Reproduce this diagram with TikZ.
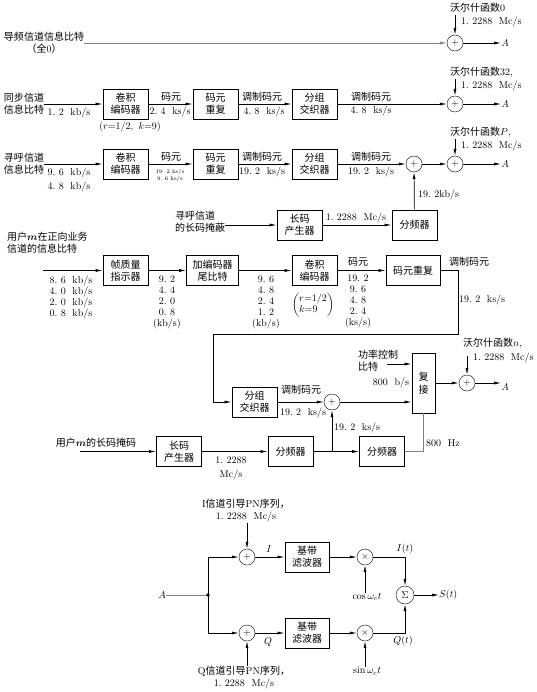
\documentclass[tikz,border=0pt]{standalone}
\usepackage{amsmath}
\usepackage{fontspec}
\newfontfamily\cjk{Noto Sans CJK SC}
\usetikzlibrary{arrows.meta,positioning,calc}

\begin{document}
\begin{tikzpicture}[x=1pt,y=-1pt,font=\cjk\fontsize{10}{12}\selectfont,
  >={Latex[length=7pt,width=3pt]},
  blk/.style={draw, line width=0.8pt, minimum width=45pt, minimum height=30pt, inner sep=0pt, align=center},
  sumc/.style={draw, circle, minimum size=16pt, inner sep=0pt},
  num/.style={inner sep=0pt, align=center, font=\rmfamily\fontsize{10}{11}\selectfont},
  txt/.style={inner sep=0pt, align=center},
  wire/.style={line width=0.7pt}]
\useasboundingbox (0,0) rectangle (537,692);
% pilot channel
\node[txt] (pilot) at (44,43) {导频信道信息比特\\（全{\rmfamily 0}）};
\node[sumc] (s0) at (455,43) {$+$};
\node[num] (a0) at (505,43) {$A$};
\node[txt,anchor=west] (w0) at (450,8) {沃尔什函数{\rmfamily 0}};
\node[num,anchor=west] (r0) at (461,22) {1.\ 2288~~Mc/s};
\coordinate (w0in) at (455,15);
\draw[wire,gray,->] (pilot.east) -- (s0);
\draw[wire,->] (w0in) -- (s0);
\draw[wire,->] (s0) -- (a0);
% sync channel
\node[txt] (sync) at (24,104) {同步信道\\信息比特};
\node[blk] (cv1) at (125.5,104) {卷积\\编码器};
\node[blk] (rp1) at (215.5,104) {码元\\重复};
\node[blk] (il1) at (314.5,104) {分组\\交织器};
\node[sumc] (s32) at (455,104) {$+$};
\node[num] (a32) at (505,104) {$A$};
\node[num] (q0) at (69,113) {1.\ 2~~kb/s};
\node[txt] (q1) at (171,97) {码元};
\node[num] (q2) at (170,112) {2.\ 4~~ks/s};
\node[txt] (q3) at (262,97) {调制码元};
\node[num] (q4) at (264,112) {4.\ 8~~ks/s};
\node[txt] (q5) at (371,97) {调制码元};
\node[num] (q6) at (371,111) {4.\ 8~~ks/s};
\node[num] (q7) at (130,127) {$(r{=}1/2,\ k{=}9)$};
\node[txt,anchor=west] (w32) at (450,72) {沃尔什函数{\rmfamily 32,}};
\node[num,anchor=west] (r32) at (461,86) {1.\ 2288~~Mc/s};
\coordinate (w32in) at (455,79);
\draw[wire,->] (sync.east) -- (cv1);
\draw[wire,->] (cv1) -- (rp1);
\draw[wire,->] (rp1) -- (il1);
\draw[wire,->] (il1) -- (s32);
\draw[wire,->] (w32in) -- (s32);
\draw[wire,->] (s32) -- (a32);
% paging channel
\node[txt] (pag) at (24,164) {寻呼信道\\信息比特};
\node[blk] (cv2) at (125.5,164) {卷积\\编码器};
\node[blk] (rp2) at (215.5,164) {码元\\重复};
\node[blk] (il2) at (314.5,164) {分组\\交织器};
\node[sumc] (s1) at (414,164) {$+$};
\node[sumc] (sP) at (455,164) {$+$};
\node[num] (aP) at (505,164) {$A$};
\node[num] (p1) at (69,173) {9.\ 6~~kb/s};
\node[num] (p2) at (69,187) {4.\ 8~~kb/s};
\node[txt] (p3) at (171,157) {码元};
\node[num,font=\rmfamily\fontsize{5.5}{7}\selectfont] (p4) at (170,176) {19.\ 2 ks/s\\9.\ 6 ks/s};
\node[txt] (p5) at (262,157) {调制码元};
\node[num] (p6) at (262,172) {19.\ 2~~ks/s};
\node[txt] (p7) at (371,157) {调制码元};
\node[num] (p8) at (371,172) {19.\ 2~~ks/s};
\node[txt,anchor=west] (wP) at (450,132) {沃尔什函数$P${\rmfamily ,}};
\node[num,anchor=west] (rP) at (461,146) {1.\ 2288~~Mc/s};
\coordinate (wPin) at (455,139);
\node[txt,anchor=west,align=left] (lcm) at (175,222) {寻呼信道\\的长码掩蔽};
\node[blk] (lc1) at (299.5,225) {长码\\产生器};
\node[blk] (dv1) at (414.5,225) {分频器};
\node[num] (p9) at (356,218) {1.\ 2288~~Mc/s};
\node[num,anchor=west] (p10) at (418,195) {19.\ 2kb/s};
\draw[wire,->] (pag.east) -- (cv2);
\draw[wire,->] (cv2) -- (rp2);
\draw[wire,->] (rp2) -- (il2);
\draw[wire,->] (il2) -- (s1);
\draw[wire,->] (s1) -- (sP);
\draw[wire,->] (wPin) -- (sP);
\draw[wire,->] (sP) -- (aP);
\draw[wire,->] (lcm.east |- lc1) -- (lc1);
\draw[wire,->] (lc1) -- (dv1);
\draw[wire,->] (dv1) -- (s1);
% forward traffic channel
\node[txt,anchor=west,align=left] (usr) at (7,243) {用户$\boldsymbol{m}$在正向业务\\信道的信息比特};
\coordinate (usrin) at (43,270.5);
\node[blk] (fq) at (125.5,270.5) {帧质量\\指示器};
\node[blk,minimum width=52pt] (tl) at (212.5,270.5) {加编码器\\尾比特};
\node[blk] (cv3) at (314.5,270.5) {卷积\\编码器};
\node[blk,minimum width=54pt] (rp3) at (413,270.5) {码元重复};
\node[num] (f1) at (71,297) {8.\ 6~~kb/s\\4.\ 0~~kb/s\\2.\ 0~~kb/s\\0.\ 8~~kb/s};
\node[num] (f2) at (167,302) {9.\ 2\\4.\ 4\\2.\ 0\\0.\ 8\\(kb/s)};
\node[num] (f3) at (266,302) {9.\ 6\\4.\ 8\\2.\ 4\\1.\ 2\\(kb/s)};
\node[num] (f4) at (313,305) {$\left(\begin{array}{@{}l@{}} r{=}1/2\\ k{=}9\end{array}\right)$};
\node[txt] (f5) at (358,262) {码元};
\node[num] (f6) at (358,301) {19.\ 2\\9.\ 6\\4.\ 8\\2.\ 4\\(ks/s)};
\node[txt] (f7) at (469,262) {调制码元};
\node[num,anchor=west] (f8) at (459,300) {19.\ 2~~ks/s};
\coordinate (t1) at (458,334);
\coordinate (t2) at (213,334);
\draw[wire,->] (usrin) -- (fq);
\draw[wire,->] (fq) -- (tl);
\draw[wire,->] (tl) -- (cv3);
\draw[wire,->] (cv3) -- (rp3);
% second interleaver and mux
\node[blk] (il3) at (254.5,402) {分组\\交织器};
\node[txt] (g1) at (301,390) {调制码元};
\node[num] (g2) at (303,413) {19.\ 2~~ks/s};
\node[sumc] (s3) at (332,402) {$+$};
\node[blk,minimum width=23pt,minimum height=60pt,font=\cjk\fontsize{10}{13}\selectfont] (mx) at (423.5,383) {复\\接};
\node[txt,anchor=west,align=left] (pc) at (358,361) {功率控制\\比特};
\node[num] (g3) at (391,383) {800~~b/s};
\coordinate (pcin) at (387,364);
\node[sumc] (sn) at (467,383) {$+$};
\node[num] (an) at (505,387) {$A$};
\node[txt,anchor=west] (wn) at (463,343) {沃尔什函数$n${\rmfamily ,}};
\node[num,anchor=west] (rn) at (473,358) {1.\ 2288~~Mc/s};
\coordinate (wnin) at (467,356);
\draw[wire,->] (rp3.east) -| (t1) -- (t2) |- (il3.west);
\draw[wire,->] (il3) -- (s3);
\draw[wire,->] (s3) -- (s3 -| mx.west);
\draw[wire,->] (pcin) -- (pcin -| mx.west);
\draw[wire,->] (mx) -- (sn);
\draw[wire,->] (wnin) -- (sn);
\draw[wire,->] (sn) -- (sn -| an.west);
% user long code mask
\node[txt] (um) at (96,443) {用户$\boldsymbol{m}$的长码掩码};
\coordinate (umin) at (80,451.5);
\node[blk] (lc2) at (179,451.5) {长码\\产生器};
\node[num,font=\rmfamily\fontsize{10}{14}\selectfont] (h1) at (231,468) {1.\ 2288\\Mc/s};
\node[blk] (dv2) at (290.5,451.5) {分频器};
\node[blk] (dv3) at (382,451.5) {分频器};
\coordinate (jn) at (332,451.5);
\node[num,anchor=west] (h2) at (334,428) {19.\ 2~~ks/s};
\node[num,anchor=west] (h3) at (426,443) {800~~Hz};
\draw[wire,->] (umin) -- (lc2);
\draw[wire,->] (lc2) -- (dv2);
\draw[wire,->] (dv2) -- (dv3);
\draw[wire,->] (jn) -- (s3);
\draw[wire,gray] (dv3.east) -| (mx.south);
% quadrature modulator
\node[txt] (ipn) at (246,511) {{\rmfamily I}信道引导{\rmfamily PN}序列，\\{\rmfamily 1.\ 2288~~Mc/s}};
\node[txt] (qpn) at (244,678) {{\rmfamily Q}信道引导{\rmfamily PN}序列，\\{\rmfamily 1.\ 2288~~Mc/s}};
\node[sumc] (sI) at (247,557) {$+$};
\node[sumc] (sQ) at (247,633) {$+$};
\node[num] (ain) at (162,595) {$A$};
\coordinate (jA) at (208,595);
\node[blk,minimum width=44pt] (bI) at (307,557) {基带\\滤波器};
\node[blk,minimum width=44pt] (bQ) at (307,633) {基带\\滤波器};
\node[num] (li) at (269,549) {$I$};
\node[num] (lq) at (268,642) {$Q$};
\node[sumc] (mI) at (365,557) {$\times$};
\node[sumc] (mQ) at (365,633) {$\times$};
\node[num] (cs) at (367,597) {$\cos\omega_{c}t$};
\node[num] (sn2) at (367,671) {$\sin\omega_{c}t$};
\node[sumc,minimum size=18pt] (sg) at (405,595) {$\Sigma$};
\node[num] (it) at (405,549) {$I(t)$};
\node[num] (qt) at (403,641) {$Q(t)$};
\node[num,anchor=west] (st) at (439,595) {$S(t)$};
\draw[wire,->] (ipn.south -| sI) -- (sI);
\draw[wire,->] (qpn.north -| sQ) -- (sQ);
\draw[wire,gray] (ain) -- (jA);
\fill (jA) circle (1.8);
\draw[wire,->] (jA) |- (sI);
\draw[wire,->] (jA) |- (sQ);
\draw[wire,->] (sI) -- (bI);
\draw[wire,->] (sQ) -- (bQ);
\draw[wire,->] (bI) -- (mI);
\draw[wire,->] (bQ) -- (mQ);
\draw[wire,->] (cs.north -| mI) -- (mI);
\draw[wire,->] (sn2.north -| mQ) -- (mQ);
\draw[wire,->] (mI) -| (sg);
\draw[wire,->] (mQ) -| (sg);
\draw[wire,->] (sg) -- (st);
\end{tikzpicture}
\end{document}
